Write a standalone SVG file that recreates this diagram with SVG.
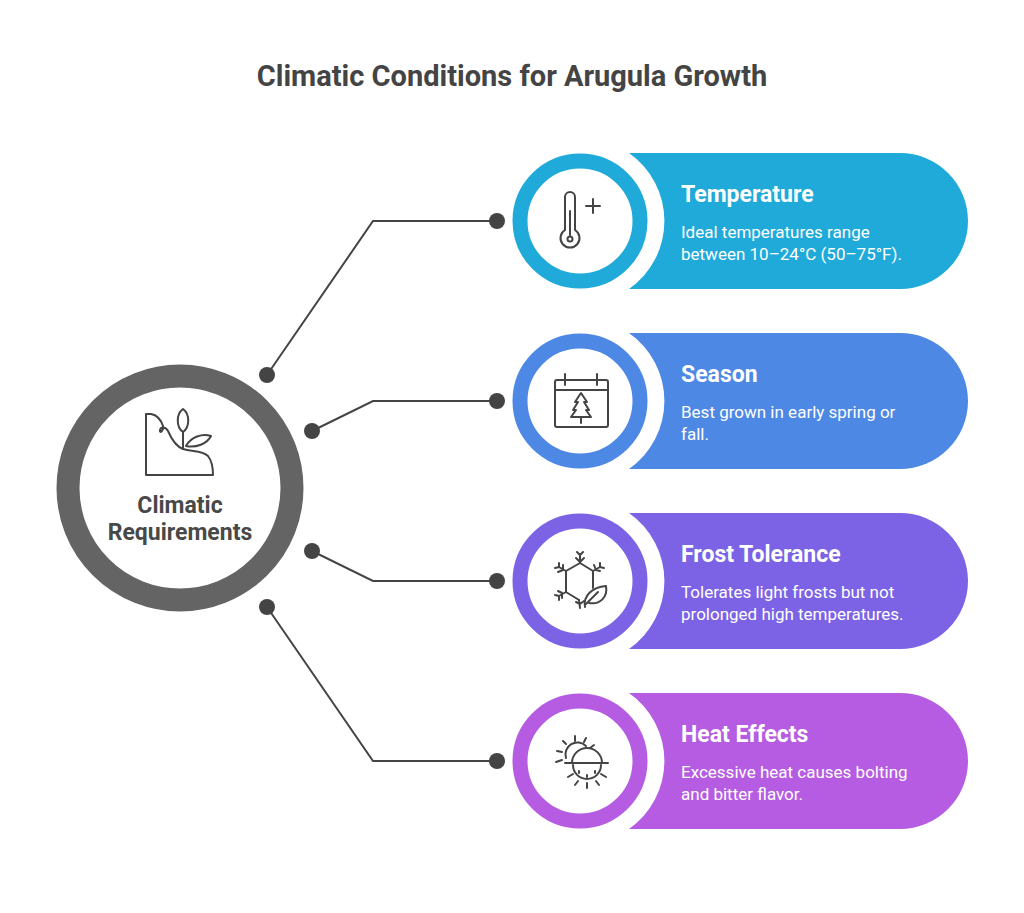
<svg xmlns="http://www.w3.org/2000/svg" width="1024" height="913" viewBox="0 0 1024 913">
<style>
.title{font-family:Roboto,"Liberation Sans",sans-serif;font-weight:700;font-size:29px;fill:#444444}
.head{font-family:Roboto,"Liberation Sans",sans-serif;font-weight:700;font-size:23px;fill:#ffffff}
.body{font-family:Roboto,"Liberation Sans",sans-serif;font-size:17px;fill:#ffffff}
.center{font-family:Roboto,"Liberation Sans",sans-serif;font-weight:700;font-size:23px;fill:#484848}
.conn{fill:none;stroke:#444444;stroke-width:2}
.dot{fill:#444444}
.icon{fill:none;stroke:#444444;stroke-width:2;stroke-linecap:round;stroke-linejoin:round}
.ring{fill:#ffffff;stroke-width:15}
</style>
<rect width="1024" height="913" fill="#ffffff"/>
<text class="title" x="512" y="86" text-anchor="middle">Climatic Conditions for Arugula Growth</text>

<g id="connectors">
<polyline class="conn" points="267,375 373,221 497,221"/>
<polyline class="conn" points="312,431 373,401 497,401"/>
<polyline class="conn" points="312,551 373,581 497,581"/>
<polyline class="conn" points="267,607 373,761 497,761"/>
<circle class="dot" cx="267" cy="375" r="8"/>
<circle class="dot" cx="497" cy="221" r="8"/>
<circle class="dot" cx="312" cy="431" r="8"/>
<circle class="dot" cx="497" cy="401" r="8"/>
<circle class="dot" cx="312" cy="551" r="8"/>
<circle class="dot" cx="497" cy="581" r="8"/>
<circle class="dot" cx="267" cy="607" r="8"/>
<circle class="dot" cx="497" cy="761" r="8"/>
</g>

<g id="center">
<circle cx="180" cy="488" r="112" fill="#ffffff" stroke="#646464" stroke-width="23"/>
<g class="icon">
<path d="M146,475 L146,414 L151,414 C157,415 161,420 163,426 C164,431 159,434 160,430 C161,426 166,427 168,431 C171,438 175,446 183,449 C192,452 202,450 208,456 C212,461 213,467 213,475 Z"/>
<path d="M183,449 L183,432"/>
<path d="M183,409 C190,414 190,427 183,432 C176,427 176,414 183,409 Z"/>
<path d="M186,446 C191,437 202,433 211,436 C207,444 196,448 186,446 Z"/>
</g>
<text class="center" x="180" y="513" text-anchor="middle">Climatic</text>
<text class="center" x="180" y="540" text-anchor="middle">Requirements</text>
</g>

<g id="temperature">
<path d="M629,153 L900,153 A68,68 0 0 1 900,289 L629,289 A83,83 0 0 0 629,153 Z" fill="#1FAAD9"/>
<circle class="ring" cx="580" cy="221" r="60" stroke="#1FAAD9"/>
<g class="icon">
<path d="M565,230 L565,197 A5,5 0 0 1 575,197 L575,230 A9.5,9.5 0 1 1 565,230 Z"/>
<path d="M570,211 L570,235"/>
<circle cx="570" cy="239" r="2.5"/>
<path d="M593,199 L593,213 M586,206 L600,206"/>
</g>
<text class="head" x="681" y="202">Temperature</text>
<text class="body" x="681" y="238">Ideal temperatures range</text>
<text class="body" x="681" y="260">between 10–24°C (50–75°F).</text>
</g>

<g id="season">
<path d="M629,333 L900,333 A68,68 0 0 1 900,469 L629,469 A83,83 0 0 0 629,333 Z" fill="#4D88E5"/>
<circle class="ring" cx="580" cy="401" r="60" stroke="#4D88E5"/>
<g class="icon">
<rect x="555" y="380" width="53" height="47" rx="2"/>
<path d="M555,390 L608,390"/>
<path d="M565,374 L565,385 M597,374 L597,385"/>
<path d="M581,393 L575,402 L578,402 L573,410 L576,410 L571,417 L591,417 L586,410 L589,410 L584,402 L587,402 Z"/>
<path d="M581,417 L581,423"/>
</g>
<text class="head" x="681" y="382">Season</text>
<text class="body" x="681" y="418">Best grown in early spring or</text>
<text class="body" x="681" y="440">fall.</text>
</g>

<g id="frost">
<path d="M629,513 L900,513 A68,68 0 0 1 900,649 L629,649 A83,83 0 0 0 629,513 Z" fill="#7C63E6"/>
<circle class="ring" cx="580" cy="581" r="60" stroke="#7C63E6"/>
<g class="icon">
<path d="M593,588 L593,571 L580,563 L566,571 L566,592 L579,600"/>
<path d="M580,563 L580,555 M576,558 L580,562 L584,558 M580,555 L577,552 M580,555 L583,552"/>
<path d="M593,571 L600,567 M594,565 L596,570 L600,571 M600,567 L600,563 M600,567 L604,568"/>
<path d="M566,571 L559,567 M563,565 L563,570 L558,572 M559,567 L555,568 M559,567 L559,563"/>
<path d="M566,592 L559,596 M558,591 L562,593 L562,598 M559,596 L555,595 M559,596 L559,600"/>
<path d="M579,600 L580,608 M576,602 L580,604 M584,601 L580,604"/>
<path d="M585,607 C583,596 592,587 606,586 C608,597 600,605 589,603"/>
<path d="M586,604 L598,592"/>
</g>
<text class="head" x="681" y="562">Frost Tolerance</text>
<text class="body" x="681" y="598">Tolerates light frosts but not</text>
<text class="body" x="681" y="620">prolonged high temperatures.</text>
</g>

<g id="heat">
<path d="M629,693 L900,693 A68,68 0 0 1 900,829 L629,829 A83,83 0 0 0 629,693 Z" fill="#B55CE2"/>
<circle class="ring" cx="580" cy="761" r="60" stroke="#B55CE2"/>
<g class="icon">
<path d="M566,758 A12,12 0 0 1 586,746"/>
<path d="M575,741 L575,736 M566,744 L563,741 M562,752 L557,751 M562,760 L556,762 M584,742 L586,738 M590,748 L594,745"/>
<path d="M572,763 A15,15 0 0 1 602,763"/>
<path d="M565,763 L608,763"/>
<path d="M573,765 A14,14 0 0 0 601,765"/>
<path d="M579,771 L579,773 M587,775 L587,777 M595,771 L595,773"/>
<path d="M573,774 L568,777 M578,781 L575,785 M587,783 L587,788 M596,781 L599,785 M601,774 L606,777"/>
</g>
<text class="head" x="681" y="742">Heat Effects</text>
<text class="body" x="681" y="778">Excessive heat causes bolting</text>
<text class="body" x="681" y="800">and bitter flavor.</text>
</g>
</svg>
